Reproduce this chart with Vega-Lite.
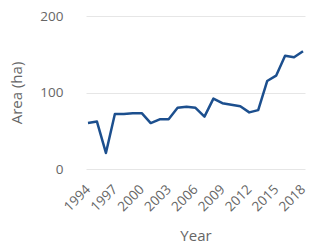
{
  "$schema": "https://vega.github.io/schema/vega-lite/v6.json",
  "width": 219,
  "height": 153,
  "autosize": {"type": "none"},
  "padding": {"left": 86, "top": 16, "right": 8, "bottom": 77},
  "background": "white",
  "config": {
    "view": {"stroke": null},
    "font": "Open Sans"
  },
  "data": {
    "values": [
      {"Year": 1994, "Area": 60},
      {"Year": 1995, "Area": 62},
      {"Year": 1996, "Area": 21},
      {"Year": 1997, "Area": 72},
      {"Year": 1998, "Area": 72},
      {"Year": 1999, "Area": 73},
      {"Year": 2000, "Area": 73},
      {"Year": 2001, "Area": 60},
      {"Year": 2002, "Area": 65},
      {"Year": 2003, "Area": 65},
      {"Year": 2004, "Area": 80},
      {"Year": 2005, "Area": 81.5},
      {"Year": 2006, "Area": 80},
      {"Year": 2007, "Area": 68.5},
      {"Year": 2008, "Area": 92},
      {"Year": 2009, "Area": 86},
      {"Year": 2010, "Area": 84},
      {"Year": 2011, "Area": 82},
      {"Year": 2012, "Area": 74},
      {"Year": 2013, "Area": 77},
      {"Year": 2014, "Area": 115},
      {"Year": 2015, "Area": 122},
      {"Year": 2016, "Area": 148},
      {"Year": 2017, "Area": 146},
      {"Year": 2018, "Area": 154}
    ]
  },
  "mark": {"type": "line", "color": "#1c4f8e", "strokeWidth": 2.5, "strokeJoin": "round"},
  "encoding": {
    "x": {
      "field": "Year",
      "type": "quantitative",
      "scale": {"domain": [1994, 2018], "nice": false, "zero": false, "padding": 2},
      "axis": {
        "values": [1994, 1997, 2000, 2003, 2006, 2009, 2012, 2015, 2018],
        "format": "d",
        "labelAngle": -45,
        "labelAlign": "right",
        "labelBaseline": "middle",
        "labelPadding": 18,
        "labelFontSize": 13.5,
        "labelColor": "#666666",
        "labelFlush": false,
        "labelOverlap": false,
        "grid": false,
        "domain": false,
        "ticks": false,
        "title": "Year",
        "titleFontSize": 15,
        "titleFontWeight": "normal",
        "titleColor": "#666666",
        "titlePadding": 15
      }
    },
    "y": {
      "field": "Area",
      "type": "quantitative",
      "scale": {"domain": [0, 200], "nice": false},
      "axis": {
        "values": [0, 100, 200],
        "labelFontSize": 13.5,
        "labelColor": "#666666",
        "labelPadding": 23,
        "grid": true,
        "gridColor": "#e6e6e6",
        "domain": false,
        "ticks": false,
        "title": "Area (ha)",
        "titleFontSize": 15,
        "titleFontWeight": "normal",
        "titleColor": "#666666",
        "titlePadding": 15
      }
    }
  }
}
